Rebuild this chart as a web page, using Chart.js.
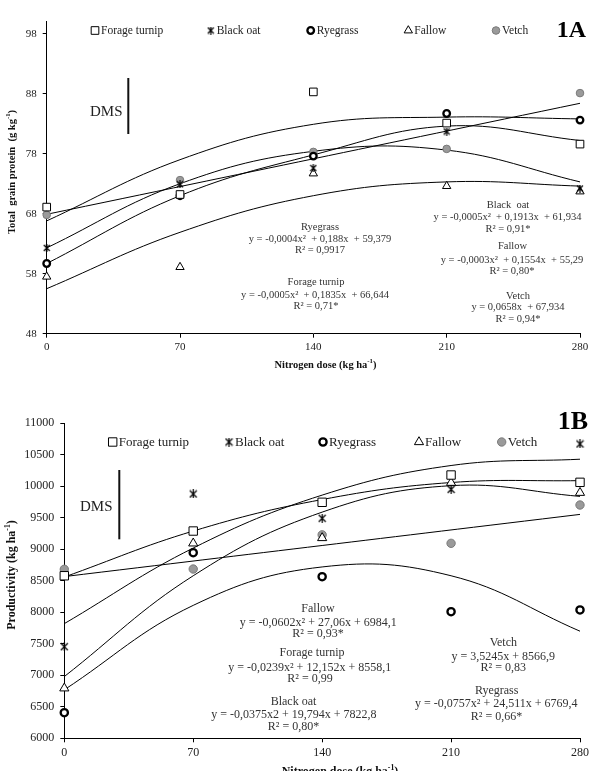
<!DOCTYPE html>
<html>
<head>
<meta charset="utf-8">
<script src="https://cdn.jsdelivr.net/npm/chart.js@4.4.1/dist/chart.umd.min.js"></script>
<style>
html, body { margin: 0; padding: 0; background: #fff; }
.panel { position: absolute; left: 0; width: 595px; }
#panelA { top: 0; height: 385px; }
#panelB { top: 385px; height: 386px; }
</style>
</head>
<body>
<div class="panel" id="panelA"><canvas id="chartA" width="595" height="385"></canvas></div>
<div class="panel" id="panelB"><canvas id="chartB" width="595" height="386"></canvas></div>
<script>
// ---- data ----
const doses = [0, 70, 140, 210, 280]
const vetchLineDoses = [0, 280]
const seriesNames = ['Forage turnip', 'Black oat', 'Ryegrass', 'Fallow', 'Vetch']

// 1A total grain protein (g kg-1)
const proteinTicks = [48, 58, 68, 78, 88, 98]
const proteinTurnip = [69.1, 71.2, 88.3, 83.1, 79.6]
const proteinOat = [62.3, 72.9, 75.6, 81.7, 72.2]
const proteinRyegrass = [59.7, 71.0, 77.6, 84.7, 83.6]
const proteinFallow = [57.5, 59.1, 74.7, 72.6, 71.7]
const proteinVetch = [67.8, 73.6, 78.3, 78.8, 88.1]
// fitted curves as they appear in the figure
const proteinTurnipFit = [66.8, 77.0, 82.9, 84.1, 83.8]
const proteinOatFit = [62.3, 73.0, 78.4, 78.6, 73.3]
const proteinRyegrassFit = [59.7, 71.0, 77.8, 82.6, 80.2]
const proteinFallowFit = [55.5, 64.9, 71.0, 73.3, 72.6]
const proteinVetchFit = [67.9, 86.4]

// 1B productivity (kg ha-1)
const prodTicks = [6000, 6500, 7000, 7500, 8000, 8500, 9000, 9500, 10000, 10500, 11000]
const prodTurnip = [8580, 9290, 9746, 10179, 10063]
const prodOat = [7454, 9878, 9492, 9952, 10672]
const prodRyegrass = [6406, 8946, 8565, 8010, 8037]
const prodFallow = [6794, 9095, 9180, 10057, 9898]
const prodVetch = [8683, 8687, 9230, 9095, 9703]
const prodTurnipFit = [8560, 9290, 9790, 10060, 10090]
const prodOatFit = [7820, 9020, 9860, 10330, 10430]
const prodRyegrassFit = [6770, 8110, 8720, 8580, 7700]
const prodFallowFit = [6980, 8580, 9590, 10010, 9840]
const prodVetchFit = [8567, 9554]

// ---- styles ----
const serif = '"Liberation Serif", "Times New Roman", serif'

function starImage(size) {
    const c = document.createElement('canvas')
    c.width = size
    c.height = size
    const g = c.getContext('2d')
    g.strokeStyle = '#000'
    g.lineWidth = 1.2
    g.beginPath()
    g.moveTo(1, 1); g.lineTo(size - 1, size - 1)
    g.moveTo(size - 1, 1); g.lineTo(1, size - 1)
    g.moveTo(size / 2, 0); g.lineTo(size / 2, size)
    g.stroke()
    return c
}

function markerStyles(k) {
    return [
        { pointStyle: 'rect', radius: 5.4 * k, backgroundColor: '#fff', borderColor: '#000', borderWidth: 1 },
        { pointStyle: starImage(Math.round(8 * k)), radius: 4 * k, backgroundColor: '#000', borderColor: '#000', borderWidth: 1 },
        { pointStyle: 'circle', radius: 3.3 * k, backgroundColor: '#fff', borderColor: '#000', borderWidth: 2.3 },
        { pointStyle: 'triangle', radius: 4.8 * k, backgroundColor: '#fff', borderColor: '#000', borderWidth: 1 },
        { pointStyle: 'circle', radius: 3.8 * k, backgroundColor: '#9a9a9a', borderColor: '#7a7a7a', borderWidth: 1 }
    ]
}

function pointSet(name, values, m) {
    return {
        label: name,
        data: doses.map((d, i) => ({ x: d, y: values[i] })),
        showLine: false,
        pointStyle: m.pointStyle,
        pointRadius: m.radius,
        pointHoverRadius: m.radius,
        pointBackgroundColor: m.backgroundColor,
        pointBorderColor: m.borderColor,
        pointBorderWidth: m.borderWidth,
        clip: false
    }
}

function fitSet(xs, values) {
    return {
        data: xs.map((d, i) => ({ x: d, y: values[i] })),
        showLine: true,
        pointRadius: 0,
        borderColor: '#000',
        borderWidth: 1,
        tension: 0.4,
        fill: false
    }
}

function drawSupText(ctx, parts, size, bold) {
    // parts: [text, isSuperscript]; drawn centred on (0,0)
    const w = bold ? 'bold ' : ''
    const fonts = parts.map(p => p[1] ? `${w}${size * 0.65}px ${serif}` : `${w}${size}px ${serif}`)
    let total = 0
    const widths = parts.map((p, i) => { ctx.font = fonts[i]; const m = ctx.measureText(p[0]).width; total += m; return m })
    let x = -total / 2
    ctx.textAlign = 'left'
    ctx.textBaseline = 'middle'
    parts.forEach((p, i) => {
        ctx.font = fonts[i]
        ctx.fillText(p[0], x, p[1] ? -size * 0.35 : 0)
        x += widths[i]
    })
}

function makeDecor(cfg) {
    return {
        id: 'decor',
        afterDraw(chart) {
            const ctx = chart.ctx
            ctx.save()
            // legend
            cfg.legendX.forEach((lx, i) => {
                const m = cfg.markers[i]
                ctx.fillStyle = m.backgroundColor
                ctx.strokeStyle = m.borderColor
                ctx.lineWidth = m.borderWidth
                Chart.helpers.drawPoint(ctx, { pointStyle: m.pointStyle, radius: m.radius, rotation: 0, borderWidth: m.borderWidth }, lx, cfg.legendY)
                ctx.fillStyle = '#222'
                ctx.font = `${cfg.legendSize}px ${serif}`
                ctx.textAlign = 'left'
                ctx.textBaseline = 'middle'
                ctx.fillText(seriesNames[i], lx + cfg.legendGap, cfg.legendY + 0.5)
            })
            // equations
            ctx.fillStyle = '#333'
            ctx.font = `${cfg.textSize}px ${serif}`
            ctx.textAlign = 'center'
            ctx.textBaseline = 'middle'
            cfg.texts.forEach(t => ctx.fillText(t[0], t[1], t[2]))
            // DMS bar
            ctx.fillStyle = '#222'
            ctx.font = `15px ${serif}`
            ctx.textAlign = 'left'
            ctx.fillText('DMS', cfg.dms.tx, cfg.dms.ty)
            ctx.strokeStyle = '#111'
            ctx.lineWidth = 2
            ctx.beginPath()
            ctx.moveTo(cfg.dms.bx, cfg.dms.y0)
            ctx.lineTo(cfg.dms.bx, cfg.dms.y1)
            ctx.stroke()
            // panel label
            ctx.fillStyle = '#000'
            ctx.font = `bold ${cfg.panel.size}px ${serif}`
            ctx.textAlign = 'right'
            ctx.fillText(cfg.panel.text, cfg.panel.x, cfg.panel.y)
            // axis titles
            ctx.fillStyle = '#111'
            ctx.save()
            ctx.translate(cfg.xTitle.x, cfg.xTitle.y)
            drawSupText(ctx, cfg.xTitle.parts, cfg.xTitle.size, true)
            ctx.restore()
            ctx.save()
            ctx.translate(cfg.yTitle.x, cfg.yTitle.y)
            ctx.rotate(-Math.PI / 2)
            drawSupText(ctx, cfg.yTitle.parts, cfg.yTitle.size, true)
            ctx.restore()
            ctx.restore()
        }
    }
}

function axes(o) {
    const tickFont = { family: serif, size: o.tickSize }
    const grid = { drawOnChartArea: false, drawTicks: true, tickLength: 4, color: '#000' }
    return {
        x: {
            type: 'linear', min: 0, max: 280,
            afterBuildTicks: s => { s.ticks = doses.map(v => ({ value: v })) },
            border: { color: '#000', width: 1 },
            grid: grid,
            ticks: { font: tickFont, color: '#222', padding: 3, maxRotation: 0, callback: v => String(v) },
            afterFit: s => { s.height = 22 }
        },
        y: {
            type: 'linear', min: o.yMin, max: o.yMax,
            afterBuildTicks: s => { s.ticks = o.yTicks.map(v => ({ value: v })) },
            border: { color: '#000', width: 1 },
            grid: grid,
            ticks: { font: tickFont, color: '#222', padding: 6, callback: v => String(v) },
            afterFit: s => { s.width = o.yWidth }
        }
    }
}

function buildChart(id, o) {
    const m = o.markers
    const datasets = o.points.map((vals, i) => pointSet(seriesNames[i], vals, m[i]))
        .concat(o.fits.map(f => fitSet(f[0], f[1])))
    return new Chart(document.getElementById(id), {
        type: 'scatter',
        data: { datasets },
        options: {
            responsive: false,
            animation: false,
            events: [],
            layout: { padding: o.padding },
            plugins: { legend: { display: false }, tooltip: { enabled: false } },
            scales: axes(o)
        },
        plugins: [makeDecor(o.decor)]
    })
}

// ---- 1A ----
const markersA = markerStyles(1)
buildChart('chartA', {
    yMin: 48, yMax: 100, yTicks: proteinTicks, yWidth: 46.7, tickSize: 11,
    padding: { left: 0, top: 21.7, right: 15, bottom: 29.3 },
    markers: markersA,
    points: [proteinTurnip, proteinOat, proteinRyegrass, proteinFallow, proteinVetch],
    fits: [[doses, proteinTurnipFit], [doses, proteinOatFit], [doses, proteinRyegrassFit], [doses, proteinFallowFit], [vetchLineDoses, proteinVetchFit]],
    decor: {
        markers: markersA,
        legendX: [95, 210.7, 310.7, 408.3, 496],
        legendY: 30.5, legendGap: 6, legendSize: 11.5,
        textSize: 10.5,
        texts: [
            ['Ryegrass', 320, 227],
            ['y = -0,0004x²  + 0,188x  + 59,379', 320, 239.3],
            ['R² = 0,9917', 320, 250.7],
            ['Forage turnip', 316, 282.7],
            ['y = -0,0005x²  + 0,1835x  + 66,644', 315, 295],
            ['R² = 0,71*', 316, 306.7],
            ['Black  oat', 508, 205.7],
            ['y = -0,0005x²  + 0,1913x  + 61,934', 507.5, 217.7],
            ['R² = 0,91*', 508, 229.3],
            ['Fallow', 512.5, 246.7],
            ['y = -0,0003x²  + 0,1554x  + 55,29', 512, 260],
            ['R² = 0,80*', 512, 271],
            ['Vetch', 518, 296],
            ['y = 0,0658x  + 67,934', 518, 307.7],
            ['R² = 0,94*', 518, 319.3]
        ],
        dms: { tx: 90, ty: 112, bx: 128.3, y0: 78, y1: 134 },
        panel: { text: '1A', x: 586, y: 31, size: 24 },
        xTitle: { x: 325.5, y: 365, size: 10.5, parts: [['Nitrogen dose (kg ha', false], ['-1', true], [')', false]] },
        yTitle: { x: 12, y: 172, size: 10.5, parts: [['Total  grain protein  (g kg', false], ['-1', true], [')', false]] }
    }
})

// ---- 1B ----
const markersB = markerStyles(1.1)
buildChart('chartB', {
    yMin: 6000, yMax: 11000, yTicks: prodTicks, yWidth: 64.3, tickSize: 12,
    padding: { left: 0, top: 38.3, right: 15, bottom: 10.7 },
    markers: markersB,
    points: [prodTurnip, prodOat, prodRyegrass, prodFallow, prodVetch],
    fits: [[doses, prodTurnipFit], [doses, prodOatFit], [doses, prodRyegrassFit], [doses, prodFallowFit], [vetchLineDoses, prodVetchFit]],
    decor: {
        markers: markersB,
        legendX: [112.7, 229, 323, 419, 501.7],
        legendY: 57, legendGap: 6, legendSize: 13,
        textSize: 12,
        texts: [
            ['Fallow', 318, 224.3],
            ['y = -0,0602x² + 27,06x + 6984,1', 318.3, 237.7],
            ['R² = 0,93*', 318, 249],
            ['Forage turnip', 312, 268.3],
            ['y = -0,0239x² + 12,152x + 8558,1', 309.7, 282.7],
            ['R² = 0,99', 310, 294],
            ['Black oat', 293.5, 316.7],
            ['y = -0,0375x2 + 19,794x + 7822,8', 293.8, 330],
            ['R² = 0,80*', 293.5, 341.7],
            ['Vetch', 503.3, 258.3],
            ['y = 3,5245x + 8566,9', 503.3, 271.7],
            ['R² = 0,83', 503.3, 283.3],
            ['Ryegrass', 496.7, 306],
            ['y = -0,0757x² + 24,511x + 6769,4', 496.3, 319.3],
            ['R² = 0,66*', 496.5, 331.7]
        ],
        dms: { tx: 80, ty: 122, bx: 119.3, y0: 85, y1: 154.3 },
        panel: { text: '1B', x: 588, y: 37, size: 26 },
        xTitle: { x: 340, y: 387, size: 12, parts: [['Nitrogen dose (kg ha', false], ['-1', true], [')', false]] },
        yTitle: { x: 12, y: 190, size: 12, parts: [['Productivity (kg ha', false], ['-1', true], [')', false]] }
    }
})
</script>
</body>
</html>
